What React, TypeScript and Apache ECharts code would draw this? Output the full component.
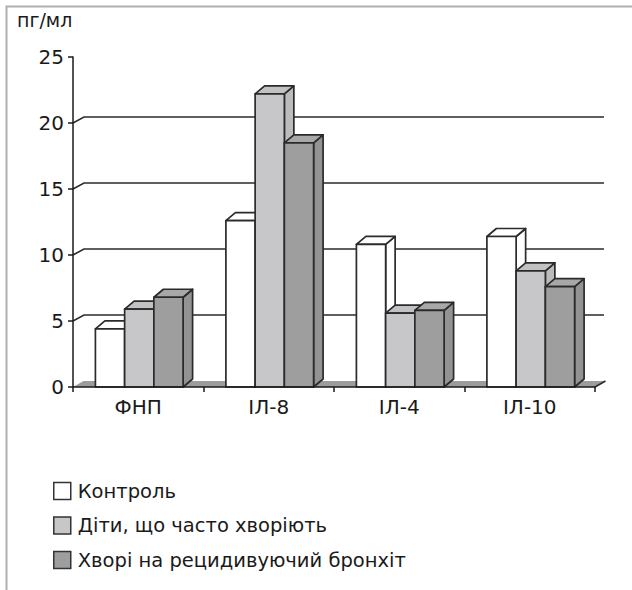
import React, { useEffect, useRef } from "react";
import * as echarts from "echarts";

const categories = ["ФНП", "ІЛ-8", "ІЛ-4", "ІЛ-10"];
const seriesNames = ["Контроль", "Діти, що часто хворіють", "Хворі на рецидивуючий бронхіт"];
const controlValues = [4.4, 12.6, 10.8, 11.4];
const frequentValues = [5.9, 22.2, 5.6, 8.8];
const recurrentValues = [6.8, 18.5, 5.8, 7.6];
const gridValues = [5, 10, 15, 20];
const yMin = 0;
const yMax = 25;
const yStep = 5;
const unitLabel = "пг/мл";

const FONT = "DejaVu Sans, Liberation Sans, sans-serif";

const faceColors = [
  { front: "#ffffff", top: "#ffffff", side: "#ffffff" },
  { front: "#c7c7c9", top: "#c2c2c4", side: "#bcbcbe" },
  { front: "#9e9e9f", top: "#a8a8a9", side: "#939394" },
];

const STROKE = "#2b2b2b";
const BAR_DX = 9.5;
const BAR_DY = -8;
const GRID_DX = 11;
const GRID_DY = -6;

export default function App() {
  const ref = useRef<HTMLDivElement>(null);

  useEffect(() => {
    document.body.style.margin = "0";
    const chart = echarts.init(ref.current!, null, { renderer: "svg" });
    const allValues = [controlValues, frequentValues, recurrentValues];

    const barSeries = allValues.map((vals, si) => ({
      type: "custom",
      name: seriesNames[si],
      z: 5,
      itemStyle: { color: faceColors[si].front, borderColor: STROKE, borderWidth: 1.5 },
      data: vals.map((v, i) => [i, v]),
      encode: { x: 0, y: 1 },
      renderItem: (params: any, api: any) => {
        const idx = api.value(0);
        const val = api.value(1);
        const top = api.coord([idx, val]);
        const base = api.coord([idx, 0]);
        const band = api.size([1, 0])[0];
        const bw = band * 0.224;
        const xl = top[0] - 1.5 * bw + si * bw + 1;
        const xr = xl + bw;
        const yt = top[1];
        const yb = base[1];
        const c = faceColors[si];
        const st = { stroke: STROKE, lineWidth: 1.7, lineJoin: "round" };
        return {
          type: "group",
          children: [
            {
              type: "polygon",
              shape: { points: [[xr, yt], [xr + BAR_DX, yt + BAR_DY], [xr + BAR_DX, yb + BAR_DY], [xr, yb]] },
              style: { fill: c.side, ...st },
            },
            {
              type: "polygon",
              shape: { points: [[xl, yt], [xl + BAR_DX, yt + BAR_DY], [xr + BAR_DX, yt + BAR_DY], [xr, yt]] },
              style: { fill: c.top, ...st },
            },
            {
              type: "rect",
              shape: { x: xl, y: yt, width: bw, height: yb - yt },
              style: { fill: c.front, ...st },
            },
          ],
        };
      },
    }));

    const gridSeries = {
      type: "custom",
      name: "grid",
      z: 1,
      silent: true,
      data: gridValues.map((v) => [0, v]),
      encode: { x: 0, y: 1 },
      renderItem: (params: any, api: any) => {
        const cs = params.coordSys;
        const y = api.coord([0, api.value(1)])[1];
        return {
          type: "polyline",
          shape: {
            points: [
              [cs.x, y],
              [cs.x + GRID_DX, y + GRID_DY],
              [cs.x + cs.width + GRID_DX - 2, y + GRID_DY],
            ],
          },
          style: { stroke: STROKE, lineWidth: 1.5, fill: null },
        };
      },
    };

    const floorSeries = {
      type: "custom",
      name: "floor",
      z: 1,
      silent: true,
      data: [[0, yMin]],
      encode: { x: 0, y: 1 },
      renderItem: (params: any, api: any) => {
        const cs = params.coordSys;
        const y = api.coord([0, api.value(1)])[1];
        const x0 = cs.x;
        const x1 = cs.x + cs.width;
        return {
          type: "group",
          children: [
            {
              type: "polygon",
              shape: { points: [[x0, y], [x0 + BAR_DX + 1, y + GRID_DY], [x1 + BAR_DX + 1, y + GRID_DY], [x1, y]] },
              style: { fill: "#9c9c9c", stroke: null },
            },
            {
              type: "line",
              shape: { x1: x1, y1: y, x2: x1 + BAR_DX + 1, y2: y + GRID_DY },
              style: { stroke: STROKE, lineWidth: 1.5 },
            },
          ],
        };
      },
    };

    chart.setOption({
      animation: false,
      backgroundColor: "#ffffff",
      textStyle: { fontFamily: FONT },
      grid: { left: 73, right: 37, top: 57, bottom: 203 },
      xAxis: {
        type: "category",
        data: categories,
        axisLine: { lineStyle: { color: "#1a1a1a", width: 1.5 } },
        axisTick: { show: true, length: 5, lineStyle: { color: "#1a1a1a", width: 1.5 } },
        axisLabel: { fontSize: 20, color: "#1a1a1a", margin: 10, fontFamily: FONT },
        splitLine: { show: false },
        z: 10,
      },
      yAxis: {
        type: "value",
        min: yMin,
        max: yMax,
        interval: yStep,
        axisLine: { show: true, lineStyle: { color: "#1a1a1a", width: 1.5 } },
        axisTick: { show: true, length: 5, lineStyle: { color: "#1a1a1a", width: 1.5 } },
        axisLabel: { fontSize: 20, color: "#1a1a1a", margin: 9, fontFamily: FONT },
        splitLine: { show: false },
        z: 10,
      },
      legend: {
        orient: "vertical",
        left: 48,
        top: 476,
        itemWidth: 17,
        itemHeight: 17,
        itemGap: 14.5,
        textStyle: { fontSize: 19.5, color: "#1a1a1a", padding: [0, 0, 0, 2], fontFamily: FONT },
        data: seriesNames.map((n, i) => ({
          name: n,
          icon: "rect",
          itemStyle: { color: faceColors[i].front, borderColor: "#333333", borderWidth: 1.5 },
        })),
      },
      graphic: [
        {
          type: "rect",
          left: 4,
          top: 4,
          shape: { x: 0, y: 0, width: 660, height: 620 },
          style: { fill: null, stroke: "#b0b0b0", lineWidth: 2 },
          silent: true,
        },
        {
          type: "text",
          left: 17,
          top: 10,
          style: { text: unitLabel, fontSize: 19, fill: "#1a1a1a", fontFamily: FONT },
        },
      ],
      series: [gridSeries, floorSeries, ...barSeries],
    });
    return () => chart.dispose();
  }, []);

  return <div ref={ref} style={{ width: 632, height: 590 }} />;
}
